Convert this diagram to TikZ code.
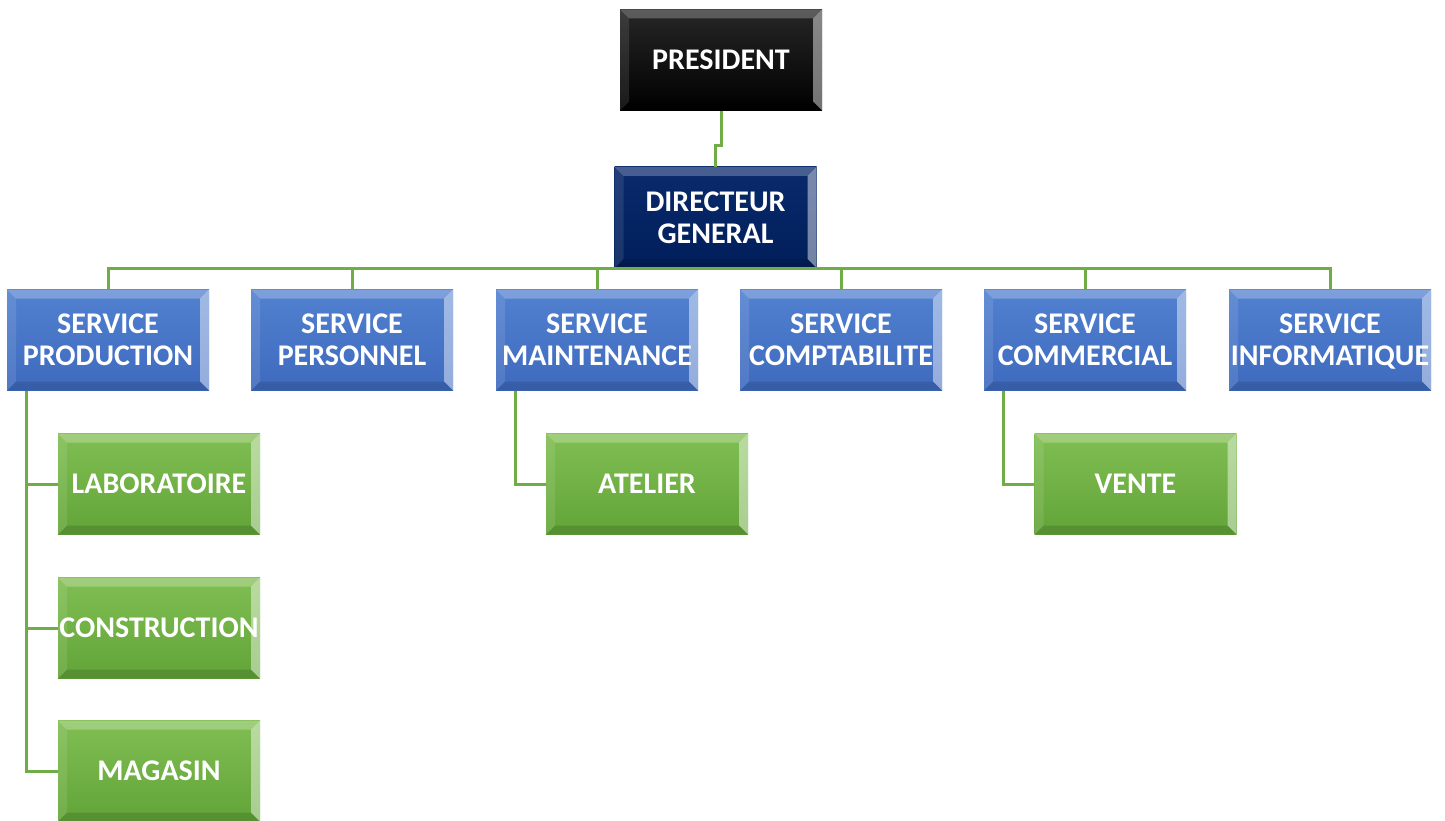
\documentclass[tikz,border=0pt]{standalone}
\usepackage{fontspec}
\setmainfont{Carlito}
\definecolor{linegreen}{HTML}{70AD47}
\begin{document}
\begin{tikzpicture}[x=1pt,y=-1pt,-]
                \tikzstyle{bevel}=[path picture={
                    \path (path picture bounding box.north west) coordinate (nw) (path picture bounding box.south east) coordinate (se);
                    \fill[white,opacity=.25] (nw) -- (nw -| se) -- ([shift={(-9pt,-9pt)}]nw -| se) -- ([shift={(9pt,-9pt)}]nw) -- cycle;
                    \fill[white,opacity=.45] (nw -| se) -- (se) -- ([shift={(-9pt,9pt)}]se) -- ([shift={(-9pt,-9pt)}]nw -| se) -- cycle;
                    \fill[white,opacity=.1] (nw) -- ([shift={(9pt,-9pt)}]nw) -- ([shift={(9pt,9pt)}]se -| nw) -- (se -| nw) -- cycle;
                    \fill[black,opacity=.12] (se -| nw) -- (se) -- ([shift={(-9pt,9pt)}]se) -- ([shift={(9pt,9pt)}]se -| nw) -- cycle;
                }]
                \tikzstyle{box}=[rectangle,minimum width=202pt,minimum height=101pt,inner sep=0pt,align=center,text=white,font=\fontsize{30}{32}\selectfont\bfseries,bevel]
                \tikzstyle{top}=[box,top color=black!85,bottom color=black]
                \tikzstyle{head}=[box,top color={rgb,255:red,10;green,42;blue,108},bottom color={rgb,255:red,0;green,30;blue,90}]
                \tikzstyle{service}=[box,top color={rgb,255:red,82;green,129;blue,208},bottom color={rgb,255:red,62;green,106;blue,190}]
                \tikzstyle{unit}=[box,top color={rgb,255:red,128;green,190;blue,82},bottom color={rgb,255:red,98;green,164;blue,56}]
                \tikzstyle{link}=[draw=linegreen,line width=3pt]
                \useasboundingbox (0,0) rectangle (1445,821);

                \node[top] (P) at (721,60) {PRESIDENT};
                \node[head] (DG) at (715.5,217.5) {DIRECTEUR\\GENERAL};
                \foreach \num/\x/\name in {1/108/PRODUCTION, 2/352/PERSONNEL, 3/597/MAINTENANCE, 4/841/COMPTABILITE, 5/1085/COMMERCIAL, 6/1330/INFORMATIQUE}
                    \node[service] (S-\num) at (\x,340) {SERVICE\\\smash{\name}};
                \foreach \num/\y/\name in {1/484/LABORATOIRE, 2/628/CONSTRUCTION, 3/771/MAGASIN}
                    \node[unit] (U-\num) at (159,\y) {\name};
                \node[unit] (U-4) at (647,484) {ATELIER};
                \node[unit] (U-5) at (1135.5,484) {VENTE};

                \draw[link] (P.south) -- ++(0,35) -| (DG.north);
                \foreach \num in {1,...,6}
                    \draw[link] (DG.south) -| (S-\num.north);
                \coordinate (PV) at ([xshift=20pt]S-1.south west);
                \foreach \num in {1,2,3}
                    \draw[link] (PV) |- (U-\num.west);
                \draw[link] ([xshift=20pt]S-3.south west) |- (U-4.west);
                \draw[link] ([xshift=20pt]S-5.south west) |- (U-5.west);
\end{tikzpicture}
\end{document}
